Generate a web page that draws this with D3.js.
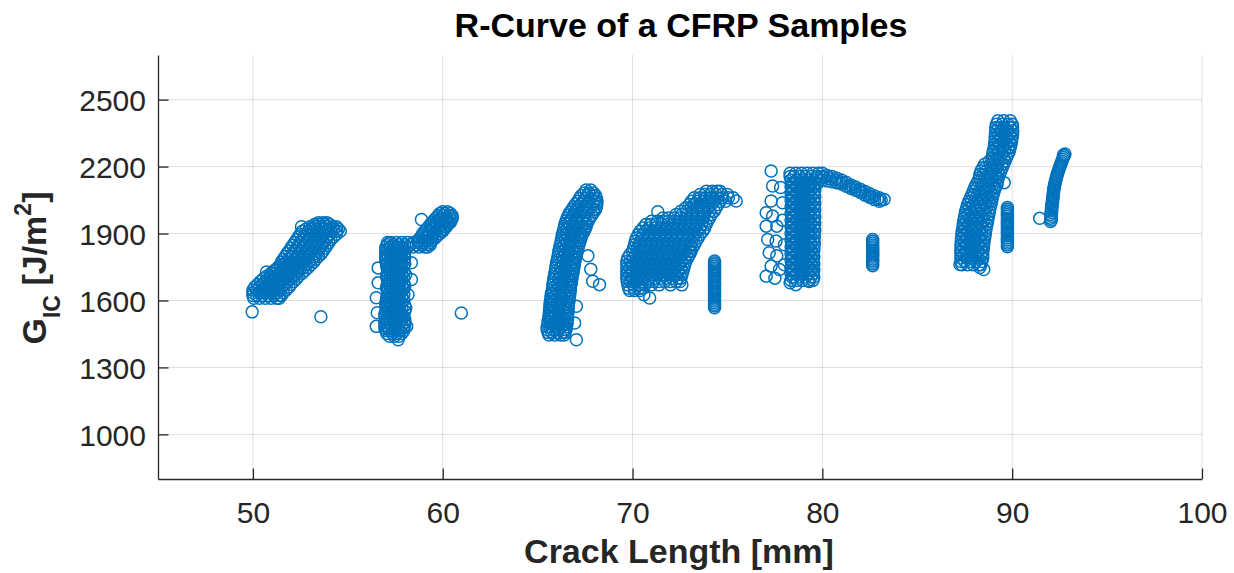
<!DOCTYPE html>
<html><head><meta charset="utf-8">
<script src="https://cdn.jsdelivr.net/npm/d3@7"></script>
<style>body{margin:0;background:#fff;} svg{display:block;} text{font-family:"Liberation Sans", Arial, Helvetica, sans-serif;}</style>
</head><body><svg id="chart" width="1234" height="573"></svg>
<script>
// ---------- DATA (crack length a [mm], G_IC [J/m^2]) ----------
const chartTitle = "R-Curve of a CFRP Samples";
const xLabel = "Crack Length [mm]";
const xDomain = [45, 100];
const yDomain = [800, 2700];
const xTicks = [50, 60, 70, 80, 90, 100];
const yTicks = [1000, 1300, 1600, 1900, 2200, 2500];

// rows: [G, a1, a2, ...]  (crack lengths recorded at roughly that G)
const sample1Rows = [
 [1610,50.05,50.35,50.65,50.95,51.25,51.38],
 [1622,50.0,50.2,50.5,50.8,51.1,51.4,51.5],
 [1635,50.0,50.35,50.65,50.95,51.25,51.6],
 [1647,50.0,50.2,50.5,50.8,51.1,51.4,51.75],
 [1660,50.1,50.35,50.65,50.95,51.25,51.55,51.9],
 [1672,50.25,50.5,50.8,51.1,51.4,51.7,52.0],
 [1685,50.4,50.65,50.95,51.25,51.55,51.85,52.15],
 [1697,50.55,50.8,51.1,51.4,51.7,52.0,52.3],
 [1710,50.75,50.95,51.25,51.55,51.85,52.15,52.4],
 [1722,50.95,51.1,51.4,51.7,52.0,52.3,52.6],
 [1735,51.15,51.25,51.55,51.85,52.15,52.45,52.75],
 [1747,51.3,51.45,51.75,52.05,52.35,52.65,52.9],
 [1760,51.45,51.6,51.9,52.2,52.5,52.8,53.05],
 [1772,51.5,51.75,52.05,52.35,52.65,52.95,53.2],
 [1785,51.6,51.9,52.2,52.5,52.8,53.1,53.3],
 [1797,51.7,52.05,52.35,52.65,52.95,53.25,53.45],
 [1810,51.8,52.1,52.4,52.7,53.0,53.3,53.6],
 [1822,51.9,52.25,52.55,52.85,53.15,53.45,53.7],
 [1835,52.0,52.3,52.6,52.9,53.2,53.5,53.8],
 [1847,52.1,52.45,52.75,53.05,53.35,53.65,53.9],
 [1860,52.2,52.5,52.8,53.1,53.4,53.7,54.0],
 [1872,52.3,52.65,52.95,53.25,53.55,53.85,54.1],
 [1885,52.4,52.7,53.0,53.3,53.6,53.9,54.25],
 [1897,52.5,52.85,53.15,53.45,53.75,54.05,54.4],
 [1910,52.6,52.9,53.2,53.5,53.8,54.1,54.4,54.6],
 [1920,52.8,53.05,53.35,53.65,53.95,54.25,54.5],
 [1930,52.56,53.0,53.3,53.6,53.9,54.2,54.4],
 [1940,53.25,53.5,53.8,54.05],
 [1948,53.45,53.7,53.9]
];
const sample2Rows = [
 [1440,57.2,57.45,57.7],
 [1452,57.05,57.35,57.6,57.85],
 [1465,57.0,57.2,57.5,57.75,57.95],
 [1477,56.95,57.1,57.35,57.65,57.95],
 [1490,56.95,57.25,57.55,57.85,58.0],
 [1502,56.95,57.1,57.4,57.7,58.0],
 [1515,57.0,57.25,57.55,57.85,58.0],
 [1527,56.95,57.1,57.4,57.7,57.95],
 [1540,56.95,57.25,57.55,57.85],
 [1552,57.0,57.1,57.4,57.7,58.0],
 [1565,57.05,57.25,57.55,57.85,58.05],
 [1577,57.0,57.1,57.4,57.7,58.0],
 [1590,57.0,57.25,57.55,57.85],
 [1602,57.05,57.1,57.4,57.7,57.95],
 [1615,57.05,57.25,57.55,57.85],
 [1627,57.1,57.4,57.7,57.95],
 [1640,57.1,57.25,57.55,57.85],
 [1652,57.05,57.4,57.7,57.95],
 [1665,57.05,57.25,57.55,57.85,58.0],
 [1677,57.1,57.4,57.7,57.95],
 [1690,57.1,57.25,57.55,57.85],
 [1702,57.05,57.4,57.7,57.95],
 [1715,57.05,57.25,57.55,57.85,58.05],
 [1727,57.1,57.4,57.7,57.95],
 [1740,57.1,57.25,57.55,57.85],
 [1752,57.05,57.4,57.7,57.95],
 [1765,57.05,57.25,57.55,57.85,58.0],
 [1777,57.0,57.4,57.7,57.95],
 [1790,57.0,57.25,57.55,57.85,58.0],
 [1802,57.0,57.1,57.4,57.7,57.95],
 [1815,57.0,57.25,57.55,57.85,58.0],
 [1827,57.0,57.1,57.4,57.7,57.95],
 [1840,57.0,57.25,57.55,57.85,58.15,58.45,58.75,59.05,59.2],
 [1850,57.1,57.4,57.7,58.0,58.3,58.6,58.9,59.2,59.35],
 [1860,57.1,57.25,57.55,57.85,58.15,58.45,58.75,59.05,59.35],
 [1870,58.7,58.95,59.2,59.45],
 [1880,58.8,59.1,59.4,59.6],
 [1890,58.9,59.15,59.45,59.7],
 [1900,58.95,59.25,59.55,59.85],
 [1910,59.05,59.3,59.6,59.9,60.0],
 [1920,59.15,59.45,59.75,60.05],
 [1930,59.25,59.5,59.8,60.1,60.2],
 [1940,59.35,59.65,59.95,60.25],
 [1950,59.45,59.7,60.0,60.3,60.4],
 [1960,59.55,59.85,60.15,60.45],
 [1970,59.65,59.9,60.2,60.5],
 [1980,59.75,60.05,60.35,60.5],
 [1990,59.85,60.1,60.4],
 [1998,60.0,60.25]
];
const sample3Rows = [
 [1445,65.6,65.9,66.2,66.4],
 [1457,65.55,65.75,66.05,66.35,66.45],
 [1470,65.5,65.8,66.1,66.4,66.5],
 [1482,65.5,65.65,65.95,66.25,66.5],
 [1495,65.55,65.8,66.1,66.4,66.55],
 [1507,65.55,65.65,65.95,66.25,66.55],
 [1520,65.6,65.8,66.1,66.4,66.58],
 [1532,65.6,65.65,65.95,66.25,66.55],
 [1545,65.62,65.85,66.15,66.45,66.6],
 [1557,65.62,65.7,66.0,66.3,66.6],
 [1570,65.65,65.85,66.15,66.45,66.62],
 [1582,65.65,65.75,66.05,66.35,66.62],
 [1595,65.67,65.9,66.2,66.5,66.65],
 [1607,65.7,65.75,66.05,66.35,66.65],
 [1620,65.7,65.95,66.25,66.55,66.68],
 [1632,65.73,65.8,66.1,66.4,66.7],
 [1645,65.77,66.0,66.3,66.6,66.72],
 [1657,65.8,66.15,66.45,66.72],
 [1670,65.8,66.05,66.35,66.65,66.75],
 [1682,65.83,66.2,66.5,66.78],
 [1695,65.85,66.1,66.4,66.7,66.8],
 [1707,65.88,66.25,66.55,66.82],
 [1720,65.9,66.15,66.45,66.75,66.85],
 [1732,65.93,66.3,66.6,66.88],
 [1745,65.95,66.2,66.5,66.8,66.9],
 [1757,65.98,66.35,66.65,66.93],
 [1770,66.0,66.25,66.55,66.85,66.95],
 [1782,66.04,66.4,66.7,66.98],
 [1795,66.07,66.3,66.6,66.9,67.0],
 [1807,66.1,66.45,66.75,67.05],
 [1820,66.12,66.35,66.65,66.95,67.08],
 [1832,66.15,66.5,66.8,67.12],
 [1845,66.18,66.4,66.7,67.0,67.16],
 [1857,66.22,66.55,66.85,67.2],
 [1870,66.25,66.45,66.75,67.05,67.25],
 [1882,66.28,66.6,66.9,67.2,67.3],
 [1895,66.3,66.5,66.8,67.1,67.35],
 [1907,66.34,66.65,66.95,67.25,67.42],
 [1920,66.38,66.55,66.85,67.15,67.45,67.5],
 [1932,66.42,66.7,67.0,67.3,67.56],
 [1945,66.45,66.6,66.9,67.2,67.5,67.6],
 [1957,66.5,66.75,67.05,67.35,67.68],
 [1970,66.55,66.8,67.1,67.4,67.75],
 [1982,66.62,66.9,67.2,67.5,67.85],
 [1995,66.7,66.95,67.25,67.55,67.95],
 [2007,66.8,67.05,67.35,67.65,67.95,68.05],
 [2020,66.9,67.15,67.45,67.75,68.1],
 [2032,67.0,67.3,67.6,67.9,68.12],
 [2045,67.12,67.4,67.7,68.0,68.12],
 [2057,67.2,67.5,67.8,68.1],
 [2070,67.3,67.6,67.9,68.05],
 [2082,67.45,67.7,67.95],
 [2095,67.55,67.8]
];
const sample4Rows = [
 [2090,73.9,74.2,74.45,74.6],
 [2075,73.55,73.8,74.1,74.4,74.7,75.0],
 [2060,73.25,73.55,73.85,74.15,74.45,74.75,75.05,75.3],
 [2045,73.1,73.4,73.7,74.0,74.3,74.6,74.9],
 [2030,73.0,73.25,73.55,73.85,74.15,74.5],
 [2015,72.8,73.1,73.4,73.7,74.0,74.4],
 [2000,72.55,72.85,73.15,73.45,73.75,74.05,74.3],
 [1985,72.3,72.6,72.9,73.2,73.5,73.8,74.15],
 [1970,71.6,71.9,72.2,72.5,72.8,73.1,73.4,73.7,74.05],
 [1955,71.0,71.3,71.6,71.9,72.2,72.5,72.8,73.1,73.4,73.7,73.95],
 [1940,70.7,70.95,71.25,71.55,71.85,72.15,72.45,72.75,73.05,73.35,73.65,73.87],
 [1925,70.55,70.85,71.15,71.45,71.75,72.05,72.35,72.65,72.95,73.25,73.55,73.8],
 [1910,70.4,70.7,71.0,71.3,71.6,71.9,72.2,72.5,72.8,73.1,73.4,73.7],
 [1895,70.3,70.55,70.85,71.15,71.45,71.75,72.05,72.35,72.65,72.95,73.25,73.55],
 [1880,70.2,70.5,70.8,71.1,71.4,71.7,72.0,72.3,72.6,72.9,73.2,73.45],
 [1865,70.15,70.4,70.7,71.0,71.3,71.6,71.9,72.2,72.5,72.8,73.1,73.35],
 [1850,70.1,70.35,70.65,70.95,71.25,71.55,71.85,72.15,72.45,72.75,73.05,73.26],
 [1835,70.05,70.25,70.55,70.85,71.15,71.45,71.75,72.05,72.35,72.65,72.95,73.15],
 [1820,70.0,70.3,70.6,70.9,71.2,71.5,71.8,72.1,72.4,72.7,73.0,73.08],
 [1805,69.85,70.15,70.45,70.75,71.05,71.35,71.65,71.95,72.25,72.55,72.85,73.0],
 [1790,69.75,70.05,70.35,70.65,70.95,71.25,71.55,71.85,72.15,72.45,72.75,72.9],
 [1775,69.7,69.9,70.2,70.5,70.8,71.1,71.4,71.7,72.0,72.3,72.6,72.8],
 [1760,69.7,70.0,70.3,70.6,70.9,71.2,71.5,71.8,72.1,72.4,72.75],
 [1745,69.7,69.85,70.15,70.45,70.75,71.05,71.35,71.65,71.95,72.25,72.55,72.7],
 [1730,69.7,70.0,70.3,70.6,70.9,71.2,71.5,71.8,72.1,72.4,72.65],
 [1715,69.7,69.85,70.15,70.45,70.75,71.05,71.35,71.65,71.95,72.25,72.6],
 [1700,69.7,70.0,70.3,70.6,70.9,71.2,71.5,71.8,72.1,72.4,72.55],
 [1685,69.72,69.9,70.2,70.5,70.8,71.1,71.4,71.7,72.0,72.3,72.5],
 [1670,69.75,70.05,70.35,70.65,71.0,71.4,72.0,72.6],
 [1655,69.8,70.1,70.35,70.5],
 [1645,69.85,70.1,70.4]
];
const sample5Rows = [
 [1690,78.35,78.65,78.95,79.25,79.5],
 [1705,78.4,78.5,78.8,79.1,79.4,79.55],
 [1720,78.35,78.65,78.95,79.25,79.5],
 [1735,78.4,78.5,78.8,79.1,79.4,79.55],
 [1750,78.35,78.65,78.95,79.25,79.5],
 [1765,78.4,78.5,78.8,79.1,79.4,79.55],
 [1780,78.35,78.65,78.95,79.25,79.5],
 [1795,78.4,78.5,78.8,79.1,79.4,79.55],
 [1810,78.35,78.65,78.95,79.25,79.5],
 [1825,78.4,78.5,78.8,79.1,79.4,79.55],
 [1840,78.35,78.65,78.95,79.25,79.55],
 [1855,78.4,78.5,78.8,79.1,79.4,79.58],
 [1870,78.35,78.65,78.95,79.25,79.55],
 [1885,78.4,78.5,78.8,79.1,79.4,79.58],
 [1900,78.35,78.65,78.95,79.25,79.55],
 [1915,78.4,78.5,78.8,79.1,79.4,79.6],
 [1930,78.35,78.65,78.95,79.25,79.55],
 [1945,78.4,78.5,78.8,79.1,79.4,79.6],
 [1960,78.35,78.65,78.95,79.25,79.55],
 [1975,78.4,78.5,78.8,79.1,79.4,79.6],
 [1990,78.35,78.65,78.95,79.25,79.55],
 [2005,78.4,78.5,78.8,79.1,79.4,79.6],
 [2020,78.35,78.65,78.95,79.25,79.55],
 [2035,78.4,78.5,78.8,79.1,79.4,79.6],
 [2050,78.35,78.65,78.95,79.25,79.55],
 [2065,78.4,78.5,78.8,79.1,79.4,79.6],
 [2080,78.35,78.65,78.95,79.25,79.55],
 [2095,78.4,78.5,78.8,79.1,79.4,79.6],
 [2110,78.35,78.65,78.95,79.25,79.55],
 [2125,78.4,78.5,78.8,79.1,79.4,79.6,79.75],
 [2140,78.35,78.65,78.95,79.25,79.55,79.85],
 [2155,78.3,78.5,78.8,79.1,79.4,79.7,79.95],
 [2170,78.3,78.6,78.9,79.2,79.5,79.8,80.0]
];
// tail of sample 5 (a, G)
const sample5Tail = [
 [80.0,2140],[80.1,2152],[80.25,2160],[80.25,2135],[80.4,2145],[80.5,2155],[80.5,2132],[80.65,2140],
 [80.75,2148],[80.75,2128],[80.9,2132],[81.0,2140],[81.0,2122],[81.1,2128],[81.25,2130],[81.25,2112],
 [81.4,2112],[81.5,2118],[81.5,2102],[81.6,2106],[81.75,2108],[81.75,2094],[81.9,2093],[82.0,2098],
 [82.0,2084],[82.1,2085],[82.25,2088],[82.25,2072],[82.4,2072],[82.5,2078],[82.5,2062],[82.6,2064],
 [82.75,2068],[82.75,2052],[82.9,2055],[83.0,2060],[83.0,2045],[83.1,2050],[83.25,2053]
];
const sample6Rows = [
 [1760,87.35,87.65,87.95,88.25,88.35],
 [1775,87.3,87.5,87.8,88.1,88.4],
 [1790,87.3,87.6,87.9,88.2,88.45],
 [1805,87.3,87.45,87.75,88.05,88.35,88.45],
 [1820,87.3,87.6,87.9,88.2,88.45],
 [1835,87.3,87.45,87.75,88.05,88.35,88.48],
 [1850,87.3,87.6,87.9,88.2,88.5],
 [1865,87.32,87.47,87.77,88.07,88.37,88.52],
 [1880,87.33,87.63,87.93,88.23,88.55],
 [1895,87.35,87.5,87.8,88.1,88.4,88.58],
 [1910,87.37,87.67,87.97,88.27,88.6],
 [1925,87.4,87.55,87.85,88.15,88.45,88.63],
 [1940,87.42,87.72,88.02,88.32,88.67],
 [1955,87.45,87.6,87.9,88.2,88.5,88.7],
 [1970,87.48,87.78,88.08,88.38,88.73],
 [1985,87.52,87.67,87.97,88.27,88.57,88.77],
 [2000,87.55,87.85,88.15,88.45,88.8],
 [2015,87.6,87.75,88.05,88.35,88.65,88.84],
 [2030,87.65,87.95,88.25,88.55,88.88],
 [2045,87.72,87.87,88.17,88.47,88.77,88.92],
 [2060,87.8,88.1,88.4,88.7,88.95],
 [2075,87.88,88.02,88.32,88.62,88.92,89.0],
 [2090,87.95,88.25,88.55,88.85,89.05],
 [2105,88.02,88.17,88.47,88.77,89.07,89.12],
 [2120,88.1,88.4,88.7,89.0,89.2],
 [2135,88.2,88.35,88.65,88.95,89.23],
 [2150,88.27,88.57,88.87,89.17,89.27],
 [2165,88.3,88.5,88.8,89.1,89.33],
 [2180,88.35,88.65,88.95,89.25,89.4],
 [2195,88.45,88.6,88.9,89.2,89.48],
 [2210,88.55,88.85,89.15,89.45,89.55],
 [2225,88.8,89.0,89.3,89.62],
 [2240,88.95,89.25,89.55,89.7],
 [2255,88.98,89.15,89.45,89.78],
 [2270,89.0,89.3,89.6,89.85],
 [2285,89.05,89.2,89.5,89.8,89.9],
 [2300,89.08,89.38,89.68,89.94],
 [2315,89.1,89.25,89.55,89.85,89.97],
 [2330,89.1,89.4,89.7,90.0],
 [2345,89.12,89.27,89.57,89.87,90.02],
 [2360,89.13,89.43,89.73,90.03],
 [2375,89.14,89.29,89.59,89.89,90.02],
 [2390,89.17,89.47,89.77,90.0],
 [2405,89.25,89.55,89.9]
];
// sample 7 (a, G)
const sample7 = [
 [92.02,1954],[92.06,1961],[92.03,1969],[92.07,1977],[92.04,1985],[92.08,1993],[92.05,2001],
 [92.09,2009],[92.07,2017],[92.11,2025],[92.09,2033],[92.13,2041],[92.12,2049],[92.15,2057],
 [92.14,2065],[92.17,2073],[92.16,2081],[92.19,2089],[92.18,2097],[92.21,2105],[92.22,2113],
 [92.25,2121],[92.26,2129],[92.29,2137],[92.31,2145],[92.34,2153],[92.36,2161],[92.39,2169],
 [92.42,2177],[92.45,2185],[92.48,2193],[92.52,2201],[92.55,2209],[92.59,2217],[92.62,2225],
 [92.66,2233],[92.7,2241],[92.74,2248],[92.78,2256],[92.7,2252]
];
// near-constant-a runs (a, list of G)
const runA_a = 74.32;
const runA_G = [1567,1575,1582,1590,1598,1606,1613,1621,1629,1637,1644,1652,1660,1668,1676,1683,1691,1699,1707,1714,1722,1730,1738,1746,1753,1761,1769,1777];
const runB_a = 82.65;
const runB_G = [1756,1763,1771,1779,1786,1794,1802,1810,1818,1825,1833,1841,1849,1857,1865,1873];
const runC_a = 89.75;
const runC_G = [1841,1849,1857,1865,1873,1881,1889,1897,1905,1913,1921,1929,1937,1945,1953,1961,1969,1977,1985,1993,2001,2009,2017];
// isolated / edge points (a, G)
const scattered = [
 [49.96,1549],[53.58,1527],[50.72,1728],
 [56.6,1746],[56.6,1679],[56.5,1612],[56.55,1545],[56.5,1484],[57.65,1424],[58.35,1769],[58.35,1694],
 [58.17,1626],[58.1,1484],[58.88,1963],[60.98,1544],
 [67.65,1800],[67.8,1740],[67.9,1686],[68.26,1671],[67.04,1574],[66.95,1499],[67.04,1424],
 [71.33,1998],[70.6,1626],[70.9,1611],[75.46,2046],
 [77.3,2180],[77.38,2113],[77.8,2106],[77.3,2046],[77.9,2038],[77.04,1993],[77.38,1978],[77.9,1960],
 [77.04,1933],[77.6,1933],[77.12,1873],[77.56,1866],[78.0,1850],[77.2,1814],[77.6,1800],[77.3,1754],
 [77.74,1739],[78.0,1760],[77.04,1709],[77.5,1700],[78.3,1679],[78.6,1671],[79.3,1685],
 [87.25,1761],[88.3,1748],[88.5,1739],[89.58,2128],[91.45,1968]
];

// ---------- CHART ----------
const svg = d3.select('#chart');
const x = d3.scaleLinear().domain(xDomain).range([158, 1202]);
const y = d3.scaleLinear().domain(yDomain).range([479, 55]);
const ink = '#262626';

// grid
const grid = svg.append('g');
grid.selectAll('line.gx').data(xTicks).join('line')
  .attr('x1', d => x(d)).attr('x2', d => x(d)).attr('y1', y(yDomain[1])).attr('y2', y(yDomain[0]))
  .attr('stroke', ink).attr('stroke-opacity', 0.15).attr('stroke-width', 1);
grid.selectAll('line.gy').data(yTicks).join('line')
  .attr('y1', d => y(d)).attr('y2', d => y(d)).attr('x1', x(xDomain[0])).attr('x2', x(xDomain[1]))
  .attr('stroke', ink).attr('stroke-opacity', 0.15).attr('stroke-width', 1);

// points
const pts = [];
const addRows = rows => rows.forEach(r => r.slice(1).forEach(a => pts.push([a, r[0]])));
[sample1Rows, sample2Rows, sample3Rows, sample4Rows, sample5Rows, sample6Rows].forEach(addRows);
sample5Tail.forEach(p => pts.push(p));
sample7.forEach(p => pts.push(p));
runA_G.forEach(g => pts.push([runA_a, g]));
runB_G.forEach(g => pts.push([runB_a, g]));
runC_G.forEach(g => pts.push([runC_a, g]));
scattered.forEach(p => pts.push(p));

svg.append('g').selectAll('circle').data(pts).join('circle')
  .attr('cx', d => x(d[0])).attr('cy', d => y(d[1])).attr('r', 6)
  .attr('fill', 'none').attr('stroke', '#0072BD').attr('stroke-width', 1.5);

// axes
const xAxis = svg.append('g').attr('transform', `translate(0,${y(yDomain[0])})`)
  .call(d3.axisBottom(x).tickValues(xTicks).tickFormat(d3.format('d')).tickSizeInner(-10.5).tickSizeOuter(0).tickPadding(22.5));
const yAxis = svg.append('g').attr('transform', `translate(${x(xDomain[0])},0)`)
  .call(d3.axisLeft(y).tickValues(yTicks).tickFormat(d3.format('d')).tickSizeInner(-10.5).tickSizeOuter(0).tickPadding(12));
[xAxis, yAxis].forEach(g => {
  g.select('.domain').attr('stroke', ink).attr('stroke-width', 1.3);
  g.selectAll('.tick line').attr('stroke', ink).attr('stroke-width', 1.3);
  g.selectAll('.tick text').attr('fill', ink).style('font-size', '30px')
    .style('font-family', '"Liberation Sans", Arial, Helvetica, sans-serif');
});
yAxis.selectAll('.tick text').attr('dy', '0.37em');

// title & labels
svg.append('text').attr('x', 681).attr('y', 37).attr('text-anchor', 'middle')
  .attr('fill', '#000').style('font-size', '34px').style('font-weight', 'bold').text(chartTitle);
svg.append('text').attr('x', 679).attr('y', 563).attr('text-anchor', 'middle')
  .attr('fill', ink).style('font-size', '34px').style('font-weight', 'bold').text(xLabel);
const yl = svg.append('text').attr('transform', 'translate(46,268) rotate(-90)').attr('text-anchor', 'middle')
  .attr('fill', ink).style('font-size', '34px').style('font-weight', 'bold');
yl.append('tspan').text('G');
yl.append('tspan').attr('dy', 14).style('font-size', '23px').text('IC');
yl.append('tspan').attr('dy', -14).text('\u00a0[J/m');
yl.append('tspan').attr('dy', -15).style('font-size', '23px').text('2');
yl.append('tspan').attr('dy', 15).text(']');
</script></body></html>
